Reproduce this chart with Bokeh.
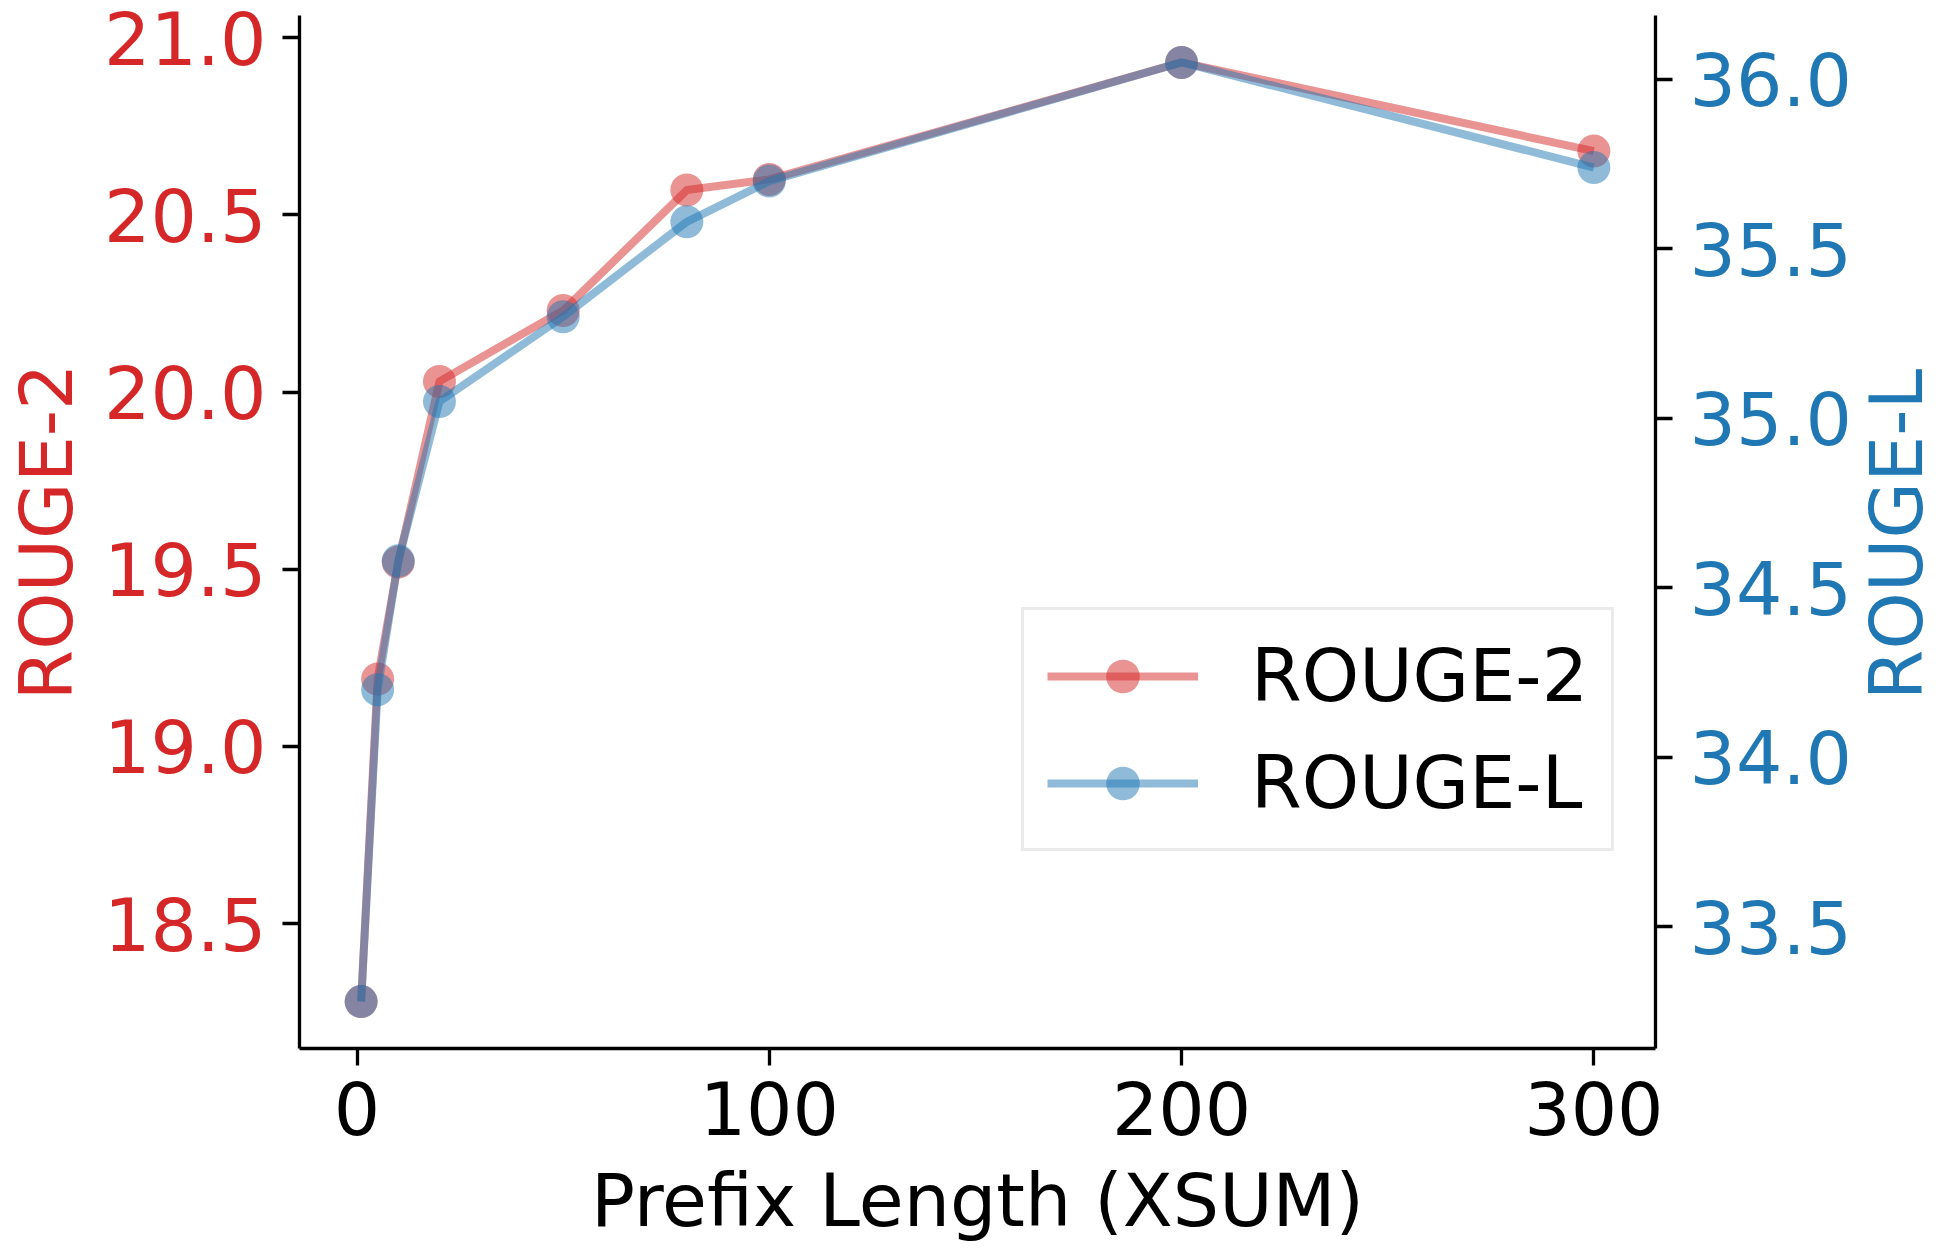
import math
from bokeh.plotting import figure
from bokeh.layouts import row
from bokeh.models import (Range1d, LinearAxis, FixedTicker, NumeralTickFormatter,
                          Legend, LegendItem, ColumnDataSource, Label)
from bokeh.embed import file_html
from bokeh.resources import INLINE

# ---- data ----
prefix_len = [1, 5, 10, 20, 50, 80, 100, 200, 300]
rouge2 = [18.28, 19.19, 19.52, 20.03, 20.23, 20.57, 20.60, 20.93, 20.68]
rougeL = [33.28, 34.20, 34.58, 35.05, 35.30, 35.58, 35.70, 36.05, 35.74]
x_ticks = [0, 100, 200, 300]
r2_ticks = [18.5, 19.0, 19.5, 20.0, 20.5, 21.0]
rl_ticks = [33.5, 34.0, 34.5, 35.0, 35.5, 36.0]
labels = ["ROUGE-2", "ROUGE-L"]
x_label = "Prefix Length (XSUM)"

RED = "#d62728"
BLUE = "#1f77b4"
FONT = "DejaVu Sans"
FS = "73px"


def padded(vals, frac=0.05):
    lo, hi = min(vals), max(vals)
    d = (hi - lo) * frac
    return lo - d, hi + d


H = 1250
WM = 1855          # main figure width
W2 = 84            # strip holding the right-hand axis title
FL, FR, FT, FB = 296, 1656, 15, 1048

p = figure(width=WM, height=H, output_backend="svg", toolbar_location=None,
           x_range=Range1d(*padded(prefix_len)), y_range=Range1d(*padded(rouge2)),
           min_border_left=FL, min_border_right=WM - FR,
           min_border_top=FT, min_border_bottom=H - FB)
p.extra_y_ranges = {"rl": Range1d(*padded(rougeL))}
p.outline_line_color = None
p.xgrid.visible = False
p.ygrid.visible = False
p.background_fill_color = "white"
p.border_fill_color = "white"

right_axis = LinearAxis(y_range_name="rl")
p.add_layout(right_axis, "right")


def style(ax, color, ticks, fmt, standoff):
    ax.ticker = FixedTicker(ticks=ticks)
    ax.formatter = NumeralTickFormatter(format=fmt)
    ax.major_label_text_font = FONT
    ax.major_label_text_font_size = FS
    ax.major_label_text_color = color
    ax.major_label_standoff = standoff
    ax.axis_label_text_font = FONT
    ax.axis_label_text_font_size = FS
    ax.axis_label_text_font_style = "normal"
    ax.axis_label_text_color = color
    ax.axis_line_width = 3.3
    ax.axis_line_color = "black"
    ax.major_tick_line_width = 3.3
    ax.major_tick_line_color = "black"
    ax.major_tick_out = 17
    ax.major_tick_in = 0
    ax.minor_tick_out = 0
    ax.minor_tick_in = 0


style(p.xaxis[0], "black", x_ticks, "0", 15)
p.xaxis[0].axis_label = x_label
p.xaxis[0].axis_label_standoff = 20
style(p.yaxis[0], RED, r2_ticks, "0.0", 16)
p.yaxis[0].axis_label = labels[0]
p.yaxis[0].axis_label_standoff = 12
style(right_axis, BLUE, rl_ticks, "0.0", 17)

src = ColumnDataSource(dict(x=prefix_len, r2=rouge2, rl=rougeL))
l1 = p.line("x", "r2", source=src, line_color=RED, line_alpha=0.5,
            line_width=8, line_join="round")
s1 = p.scatter("x", "r2", source=src, size=33, fill_color=RED,
               fill_alpha=0.5, line_color=None)
l2 = p.line("x", "rl", source=src, y_range_name="rl", line_color=BLUE,
            line_alpha=0.5, line_width=8, line_join="round")
s2 = p.scatter("x", "rl", source=src, y_range_name="rl", size=33,
               fill_color=BLUE, fill_alpha=0.5, line_color=None)

legend = Legend(items=[LegendItem(label=labels[0], renderers=[l1, s1]),
                       LegendItem(label=labels[1], renderers=[l2, s2])],
                location=(722, 197), margin=0, padding=23, spacing=22,
                glyph_width=151, glyph_height=84, label_height=84,
                label_standoff=53, label_text_font=FONT,
                label_text_font_size=FS, label_text_color="black",
                border_line_color="#d6d6d6", border_line_width=3,
                background_fill_color="white", background_fill_alpha=0.8)
p.add_layout(legend)

# narrow strip to the right carrying the right-hand axis title (reads upward)
p2 = figure(width=W2, height=H, output_backend="svg", toolbar_location=None,
            x_range=Range1d(0, 1), y_range=Range1d(0, 1), min_border=0,
            x_axis_location=None, y_axis_location=None)
p2.outline_line_color = None
p2.xgrid.visible = False
p2.ygrid.visible = False
p2.background_fill_color = "white"
p2.border_fill_color = "white"
p2.add_layout(Label(x=41, y=514, x_units="screen", y_units="screen",
                    text=labels[1], angle=math.pi / 2, text_align="center",
                    text_baseline="middle", text_font=FONT,
                    text_font_size=FS, text_color=BLUE))

layout = row(p, p2, spacing=0)
open("out.html", "w").write(file_html(layout, INLINE))
